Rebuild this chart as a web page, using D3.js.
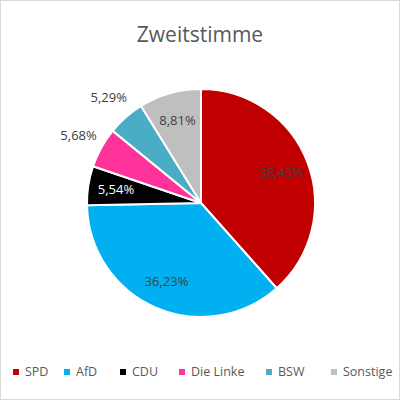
<!DOCTYPE html>
<html>
<head>
<meta charset="utf-8">
<script src="https://cdn.jsdelivr.net/npm/d3@7"></script>
<style>
  body { margin: 0; background: #fff; }
  text { font-family: "Open Sans", "Liberation Sans", sans-serif; }
</style>
</head>
<body>
<div id="chart"></div>
<script>
// Chart data
var parties = ["SPD", "AfD", "CDU", "Die Linke", "BSW", "Sonstige"];
var shares = [38.45, 36.23, 5.54, 5.68, 5.29, 8.81];
var colors = ["#C00000", "#00B0F0", "#000000", "#FF3399", "#4BACC6", "#BFBFBF"];
var labelInside = [true, true, true, false, false, true];

var svg = d3.select("#chart").append("svg")
    .attr("width", 400)
    .attr("height", 400);

// Outer border
svg.append("rect")
    .attr("x", 0.5).attr("y", 0.5)
    .attr("width", 399).attr("height", 399)
    .attr("fill", "#fff")
    .attr("stroke", "#d9d9d9");

// Title
svg.append("text")
    .attr("x", 200).attr("y", 42)
    .attr("text-anchor", "middle")
    .attr("font-size", 21)
    .attr("fill", "#595959")
    .text("Zweitstimme");

var cx = 201, cy = 203, radius = 114;

var pie = d3.pie().sort(null).value(d => d.value);
var data = parties.map((p, i) => ({ name: p, value: shares[i], color: colors[i], inside: labelInside[i] }));
var arcs = pie(data);

var arc = d3.arc().innerRadius(0).outerRadius(radius);
var inArc = d3.arc().innerRadius(86).outerRadius(86);
var outArc = d3.arc().innerRadius(140).outerRadius(140);

var g = svg.append("g").attr("transform", `translate(${cx}, ${cy})`);

g.selectAll("path")
    .data(arcs)
    .enter().append("path")
    .attr("d", arc)
    .attr("fill", d => d.data.color)
    .attr("stroke", "#fff")
    .attr("stroke-width", 2);

g.selectAll("text.lbl")
    .data(arcs)
    .enter().append("text")
    .attr("class", "lbl")
    .attr("transform", d => `translate(${(d.data.inside ? inArc : outArc).centroid(d)})`)
    .attr("text-anchor", "middle")
    .attr("dy", "0.35em")
    .attr("font-size", 13)
    .attr("fill", d => d.data.name === "CDU" ? "#fff" : "#404040")
    .text(d => d.data.value.toFixed(2).replace(".", ",") + "%");

// Legend
var legendX = [13, 64, 120, 179, 266, 331];
var legend = svg.append("g").selectAll("g")
    .data(data)
    .enter().append("g")
    .attr("transform", (d, i) => `translate(${legendX[i]}, 372)`);

legend.append("rect")
    .attr("x", 0).attr("y", -3)
    .attr("width", 6).attr("height", 6)
    .attr("fill", d => d.color);

legend.append("text")
    .attr("x", 12).attr("dy", "0.35em")
    .attr("font-size", 12.5)
    .attr("fill", "#595959")
    .text(d => d.name);
</script>
</body>
</html>
